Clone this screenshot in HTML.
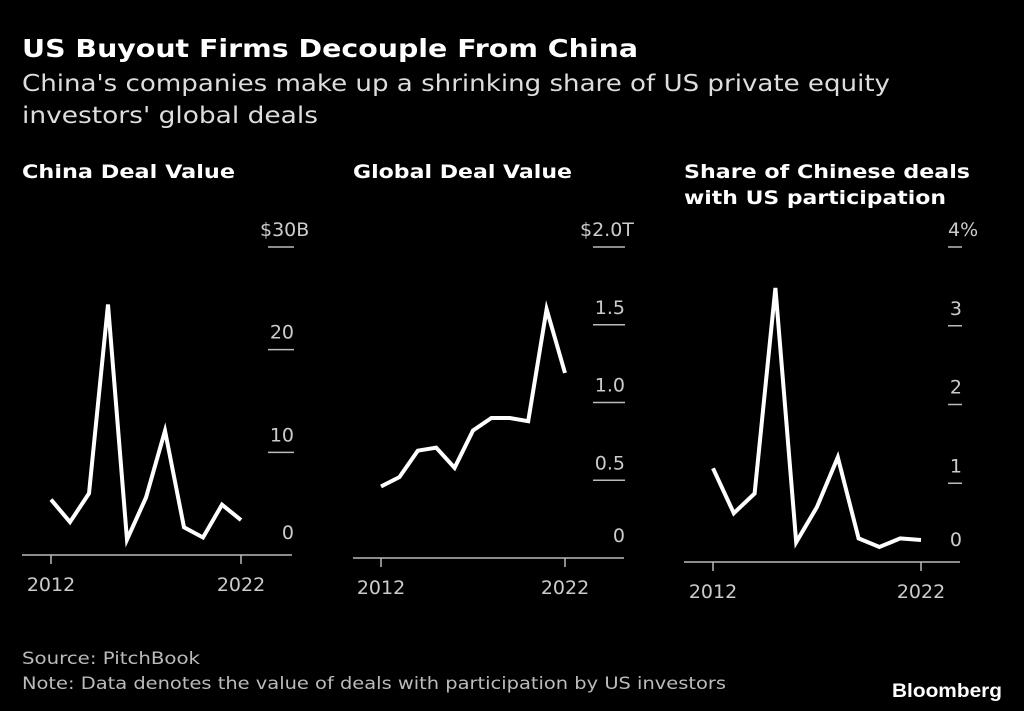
<!DOCTYPE html>
<html><head><meta charset="utf-8"><style>
body{margin:0;background:#000;width:1024px;height:711px;overflow:hidden;font-family:"DejaVu Sans","Liberation Sans",sans-serif;}
svg{display:block}
</style></head><body>
<svg id="c" width="1024" height="711" xmlns="http://www.w3.org/2000/svg" font-family="DejaVu Sans, Liberation Sans, sans-serif">
<text x="22" y="57" fill="#fff" font-size="25" font-weight="bold" textLength="616" lengthAdjust="spacingAndGlyphs">US Buyout Firms Decouple From China</text>
<text x="22" y="91" fill="#ddd" font-size="23" textLength="868" lengthAdjust="spacingAndGlyphs">China's companies make up a shrinking share of US private equity</text>
<text x="22" y="123" fill="#ddd" font-size="23" textLength="296" lengthAdjust="spacingAndGlyphs">investors' global deals</text>
<text x="22" y="178" fill="#fff" font-size="19" font-weight="bold" textLength="213" lengthAdjust="spacingAndGlyphs">China Deal Value</text>
<text x="353" y="178" fill="#fff" font-size="19" font-weight="bold" textLength="219" lengthAdjust="spacingAndGlyphs">Global Deal Value</text>
<text x="684" y="178" fill="#fff" font-size="19" font-weight="bold" textLength="286" lengthAdjust="spacingAndGlyphs">Share of Chinese deals</text>
<text x="684" y="204" fill="#fff" font-size="19" font-weight="bold" textLength="262" lengthAdjust="spacingAndGlyphs">with US participation</text>
<text x="22" y="664" fill="#bbb" font-size="17" textLength="178" lengthAdjust="spacingAndGlyphs">Source: PitchBook</text>
<text x="22" y="689" fill="#bbb" font-size="17" textLength="704" lengthAdjust="spacingAndGlyphs">Note: Data denotes the value of deals with participation by US investors</text>
<text x="892" y="697" fill="#fff" font-size="19" font-weight="bold" font-family="Liberation Sans, sans-serif" textLength="110" lengthAdjust="spacingAndGlyphs">Bloomberg</text>
</svg>
<script>
const years = [2012,2013,2014,2015,2016,2017,2018,2019,2020,2021,2022];
const chinaValues = [5.4,3.2,6.0,24.4,1.5,5.6,12.1,2.7,1.7,4.9,3.4];
const globalValues = [0.46,0.52,0.69,0.71,0.58,0.82,0.90,0.90,0.88,1.60,1.19];
const shareValues = [1.19,0.62,0.87,3.48,0.25,0.70,1.33,0.30,0.19,0.30,0.28];
const chinaTicks = [0,10,20,30];
const chinaTickLabels = ["0","10","20","$30B"];
const globalTicks = [0,0.5,1.0,1.5,2.0];
const globalTickLabels = ["0","0.5","1.0","1.5","$2.0T"];
const shareTicks = [0,1,2,3,4];
const shareTickLabels = ["0","1","2","3","4%"];
const xLabels = ["2012","2022"];

const svg = document.getElementById('c');
const NS = 'http://www.w3.org/2000/svg';
function mk(tag, attrs){const e=document.createElementNS(NS,tag);for(const k in attrs)e.setAttribute(k,attrs[k]);svg.appendChild(e);return e;}

function panel(cfg, values, ticks, labels, id){
  const x = i => cfg.x0 + (years[i]-years[0])*(cfg.x1-cfg.x0)/(years[years.length-1]-years[0]);
  const y = v => cfg.y0 - (v-ticks[0])*(cfg.y0-cfg.yTop)/(ticks[ticks.length-1]-ticks[0]);
  const ax = mk('line',{x1:cfg.axL,x2:cfg.axR,y1:cfg.y0,y2:cfg.y0,stroke:'#bbb','stroke-width':1.5});
  
  
  ticks.forEach((t,i)=>{
    if(i>0){
      const l = mk('line',{x1:cfg.tL,x2:cfg.tR,y1:y(t),y2:y(t),stroke:'#bbb','stroke-width':1.5});
      
      
    }
    const last = i===ticks.length-1;
    const tx = mk('text',{x:last?cfg.topX:cfg.tR,y:y(t)-(i===0?16:11),fill:'#ccc','font-size':19,'text-anchor':last?'start':'end'});
    tx.textContent = labels[i];
    
    
  });
  [0,years.length-1].forEach((i,k)=>{
    const l = mk('line',{x1:x(i),x2:x(i),y1:cfg.y0,y2:cfg.y0+9,stroke:'#bbb','stroke-width':1.5});
    
    
    const t = mk('text',{x:x(i),y:cfg.y0+36,fill:'#ccc','font-size':19,'text-anchor':'middle'});
    t.textContent = xLabels[k];
    
    
  });
  const pts = values.map((v,i)=>x(i).toFixed(1)+','+y(v).toFixed(1)).join(' ');
  const p = mk('polyline',{points:pts,fill:'none',stroke:'#fff','stroke-width':4,'stroke-linejoin':'miter','stroke-miterlimit':10});
  
  
}
panel({x0:51,x1:241,y0:555,yTop:247,axL:22,axR:292,tL:268,tR:294,topX:260},chinaValues,chinaTicks,chinaTickLabels,'china');
panel({x0:381,x1:565,y0:558,yTop:247,axL:353,axR:624,tL:593,tR:625,topX:580},globalValues,globalTicks,globalTickLabels,'global');
panel({x0:713,x1:921,y0:562,yTop:247,axL:684,axR:960,tL:948,tR:962,topX:948},shareValues,shareTicks,shareTickLabels,'share');
</script>
</body></html>
